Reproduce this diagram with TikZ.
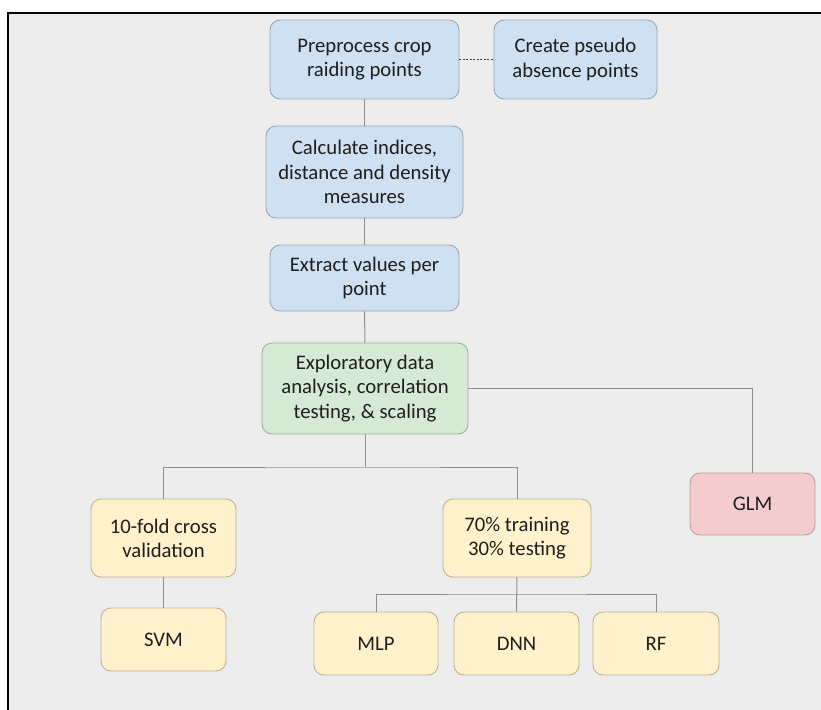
\documentclass[tikz,border=0pt]{standalone}
\usepackage{fontspec}
\setmainfont{Carlito}
\definecolor{bgc}{HTML}{EDEDED}
\definecolor{bluef}{HTML}{CFE0F2}
\definecolor{blued}{HTML}{9AA6B4}
\definecolor{greenf}{HTML}{D6E9D4}
\definecolor{greend}{HTML}{9CB09A}
\definecolor{yellowf}{HTML}{FFF1CC}
\definecolor{yellowd}{HTML}{BDB08E}
\definecolor{pinkf}{HTML}{F4CCCD}
\definecolor{pinkd}{HTML}{B59C9C}
\definecolor{txt}{HTML}{1E1E1E}
\definecolor{conn}{HTML}{8E8E8E}
\tikzset{
  box/.style={rectangle, rounded corners=10bp, line width=0.9bp, align=center,
    inner sep=0pt, text=txt, font=\fontsize{20.8}{24.3}\selectfont},
  bluebox/.style={box, fill=bluef, draw=blued},
  greenbox/.style={box, fill=greenf, draw=greend},
  yellowbox/.style={box, fill=yellowf, draw=yellowd},
  pinkbox/.style={box, fill=pinkf, draw=pinkd},
  conline/.style={draw=conn, line width=1bp},
  dashline/.style={draw=black!75, line width=0.6bp, dash pattern=on 2bp off 1.5bp}
}
\begin{document}
\begin{tikzpicture}[x=1bp, y=-1bp]
\useasboundingbox (0,0) rectangle (821,710);
\fill[white] (0,0) rectangle (821,710);
\fill[bgc] (8,13) rectangle (821,710);
\draw[black, line width=2bp] (8,710) -- (8,13) -- (821,13);

\node[bluebox, minimum width=189bp, minimum height=79bp] (pre) at (364.5,59.5) {Preprocess crop\\raiding points};
\node[bluebox, minimum width=163bp, minimum height=79bp] (pseudo) at (575.5,59.5) {Create pseudo\\absence points};
\node[bluebox, minimum width=197bp, minimum height=92bp] (calc) at (364.5,172) {Calculate indices,\\distance and density\\measures};
\node[bluebox, minimum width=189bp, minimum height=66bp] (extract) at (364.5,278) {Extract values per\\point};
\node[greenbox, minimum width=206bp, minimum height=91bp] (eda) at (365,388.5) {Exploratory data\\analysis, correlation\\testing, \& scaling};
\node[pinkbox, minimum width=125bp, minimum height=62bp] (glm) at (752.5,504) {GLM};
\node[yellowbox, minimum width=145bp, minimum height=78bp] (tenfold) at (163.5,538) {10-fold cross\\validation};
\node[yellowbox, minimum width=125bp, minimum height=63bp] (svm) at (163.5,639.5) {SVM};
\node[yellowbox, minimum width=148bp, minimum height=78bp] (seventy) at (517,538) {70\% training\\30\% testing};
\node[yellowbox, minimum width=124bp, minimum height=63bp] (mlp) at (376,643.5) {MLP};
\node[yellowbox, minimum width=125bp, minimum height=63bp] (dnn) at (516.5,643.5) {DNN};
\node[yellowbox, minimum width=126bp, minimum height=63bp] (rf) at (656,643.5) {RF};

\coordinate (j1) at (365,467);
\coordinate (j2) at (517,594);

\draw[dashline] (pre.east) -- (pseudo.west);
\draw[conline] (pre.south) -- (calc.north);
\draw[conline] (calc.south) -- (extract.north);
\draw[conline] (extract.south) -- (eda.north);
\draw[conline] (eda.east) -| (glm.north);
\draw[conline] (eda.south) -- (j1);
\draw[conline] (tenfold.north) |- (j1) -| (seventy.north);
\draw[conline] (tenfold.south) -- (svm.north);
\draw[conline] (seventy.south) -- (dnn.north);
\draw[conline] (mlp.north) |- (j2) -| (rf.north);
\end{tikzpicture}
\end{document}
